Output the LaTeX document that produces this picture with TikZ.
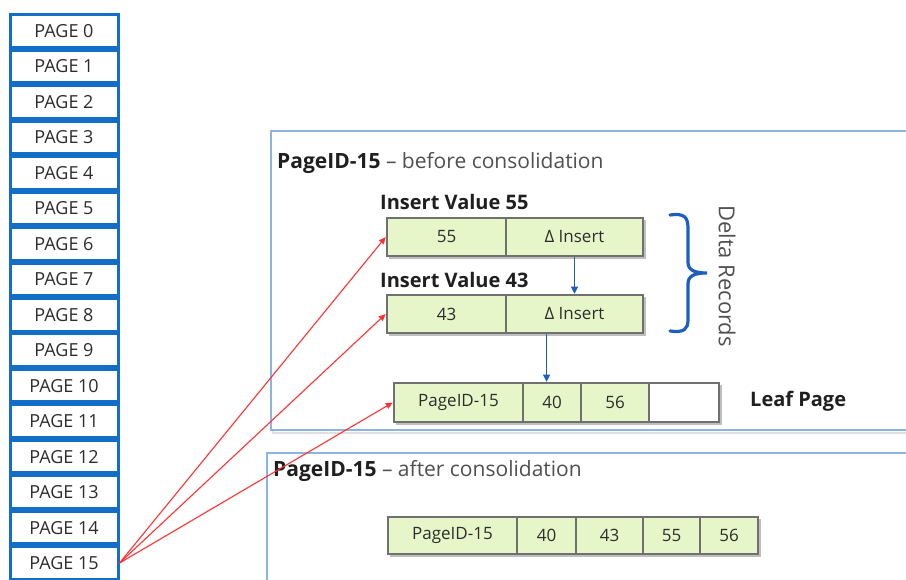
\documentclass[tikz,border=0pt]{standalone}
\usepackage{fontspec}
\setmainfont{Open Sans}
\usetikzlibrary{arrows.meta,calc}
\definecolor{pageblue}{RGB}{20,110,200}
\definecolor{panelblue}{RGB}{140,180,225}
\definecolor{cellgreen}{RGB}{230,246,200}
\definecolor{cellgray}{RGB}{112,112,112}
\definecolor{txt}{RGB}{45,45,45}
\definecolor{titlegray}{RGB}{80,80,80}
\definecolor{arrowred}{RGB}{255,50,50}
\definecolor{arrowblue}{RGB}{30,95,190}
\begin{document}
\begin{tikzpicture}[x=1pt,y=-1pt,
  pagecell/.style={draw=pageblue, line width=3pt, fill=white, minimum width=108pt, minimum height=32.5pt, inner sep=0pt, font=\fontsize{18}{18}\selectfont, text=txt},
  rec/.style={draw=cellgray, line width=2.5pt, fill=cellgreen, inner sep=0pt, font=\fontsize{17}{17}\selectfont, text=txt},
  panel/.style={draw=panelblue, line width=1.2pt, fill=white},
  panelshadow/.style={draw=black!12, line width=2pt},
  boxshadow/.style={fill=black!25},
  redarrow/.style={draw=arrowred, line width=1.1pt, -{Triangle[length=7pt,width=6pt]}},
  bluearrow/.style={draw=arrowblue, line width=1pt, -{Triangle[length=7pt,width=7pt]}},
  brace/.style={draw=arrowblue, line width=3.2pt, line cap=round},
  title/.style={anchor=west, font=\fontsize{21}{21}\selectfont, text=titlegray, inner sep=0pt},
  lbl/.style={anchor=west, font=\bfseries\fontsize{20}{20}\selectfont, text=black!88, inner sep=0pt}]
\useasboundingbox (0,0) rectangle (906,580);
\clip (0,0) rectangle (906,580);
\fill[white] (0,0) rectangle (906,580);

% panels
\draw[panelshadow] (273,133) rectangle (940,433);
\draw[panel] (271,131) rectangle (940,430);
\draw[panelshadow] (269,455) rectangle (940,620);
\draw[panel] (267,453) rectangle (940,620);

\node[title] (t1) at (277,163) {\textcolor{black!88}{\bfseries PageID-15} – before consolidation};
\node[title] (t2) at (273,471) {\textcolor{black!88}{\bfseries PageID-15} – after consolidation};

% page table
\foreach \i in {0,...,15}
  \node[pagecell] (p\i) at (64,{31+35.47*\i}) {PAGE \i};

% delta records
\node[lbl] (iv55) at (380,202) {Insert Value 55};
\fill[boxshadow] (389,220) rectangle (646,259);
\node[rec, minimum width=119pt, minimum height=38pt] (d1a) at (446.5,237) {55};
\node[rec, minimum width=137pt, minimum height=38pt] (d1b) at (574.5,237) {Δ Insert};

\node[lbl] (iv43) at (380,280) {Insert Value 43};
\fill[boxshadow] (389,297) rectangle (646,336);
\node[rec, minimum width=119pt, minimum height=38pt] (d2a) at (446.5,314) {43};
\node[rec, minimum width=137pt, minimum height=38pt] (d2b) at (574.5,314) {Δ Insert};

% leaf page
\fill[boxshadow] (396,385) rectangle (722,425);
\node[rec, minimum width=129pt, minimum height=39pt] (la) at (458.5,402.5) {PageID-15};
\node[rec, minimum width=58pt, minimum height=39pt] (lb) at (552,402.5) {40};
\node[rec, minimum width=68pt, minimum height=39pt] (lc) at (615,402.5) {56};
\node[rec, minimum width=70pt, minimum height=39pt, fill=white] (ld) at (684,402.5) {};
\node[lbl] (leaf) at (750,401) {Leaf Page};

% consolidated page
\fill[boxshadow] (390,519) rectangle (761,557);
\node[rec, minimum width=129pt, minimum height=37pt] (ba) at (452.5,535.5) {PageID-15};
\node[rec, minimum width=59pt, minimum height=37pt] (bb) at (546.5,535.5) {40};
\node[rec, minimum width=67pt, minimum height=37pt] (bc) at (609.5,535.5) {43};
\node[rec, minimum width=57pt, minimum height=37pt] (bd) at (671.5,535.5) {55};
\node[rec, minimum width=58pt, minimum height=37pt] (be) at (729,535.5) {56};

% brace and label
\draw[brace] (670,215) .. controls (684,213) and (688,217) .. (688,228) -- (688,262)
  .. controls (688,270) and (694,273) .. (707,273)
  .. controls (694,273) and (688,276) .. (688,284) -- (688,320)
  .. controls (688,329) and (684,333) .. (670,331);
\node[font=\fontsize{22}{22}\selectfont, text=titlegray, rotate=-90, inner sep=0pt] (dr) at (727,276) {Delta Records};

% blue arrows
\draw[bluearrow] (d1b.south) -- (d2b.north);
\coordinate (c2) at ($(d2b.south west)!0.3!(d2b.south east)$);
\draw[bluearrow] (c2) -- (c2 |- lb.north);

% red arrows
\draw[redarrow] (p15.east) -- (d1a.west);
\draw[redarrow] (p15.east) -- (d2a.west);
\draw[redarrow] (p15.east) -- (la.west);
\end{tikzpicture}
\end{document}
